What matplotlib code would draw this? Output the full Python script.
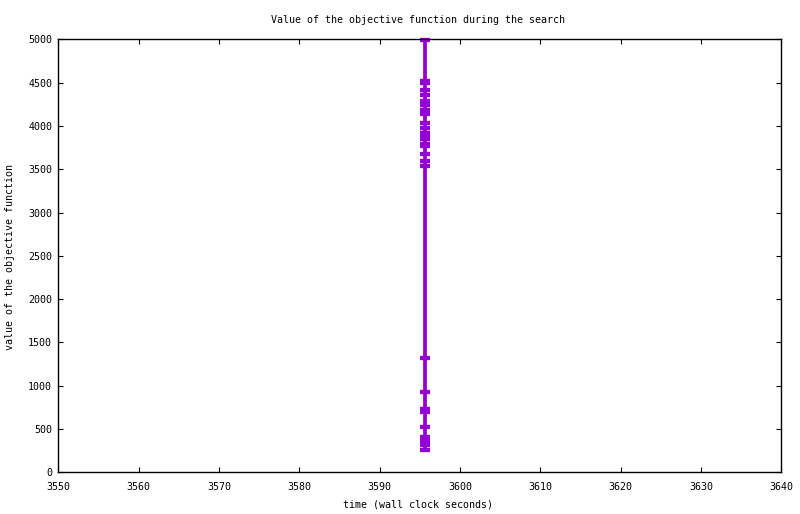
import matplotlib
matplotlib.use("Agg")
import matplotlib.pyplot as plt

# objective value found at each improvement
objective = [4990, 4524, 4490, 4417, 4357, 4288, 4236, 4184, 4138, 4034,
             3979, 3918, 3884, 3849, 3791, 3768, 3678, 3597, 3539,
             1322, 930, 731, 702, 525, 408, 362, 316, 263]
# wall clock time of each improvement, all within the same second
wall_time = [3595.6] * len(objective)

x_ticks = [3550, 3560, 3570, 3580, 3590, 3600, 3610, 3620, 3630, 3640]
y_ticks = [0, 500, 1000, 1500, 2000, 2500, 3000, 3500, 4000, 4500, 5000]

plt.rcParams['font.family'] = ['DejaVu Sans Mono']
plt.rcParams['font.size'] = 7.2

fig = plt.figure(figsize=(8.0, 5.14), dpi=100)
ax = fig.add_axes([0.0729, 0.0811, 0.9037, 0.8424])

ax.plot(wall_time, objective, color='#9400d3', linewidth=2.7,
        solid_capstyle='projecting', marker='_', markersize=7.4,
        markeredgewidth=3.1, clip_on=False)

ax.set_xlim(3550, 3640)
ax.set_ylim(0, 5000)
ax.set_xticks(x_ticks)
ax.set_yticks(y_ticks)
ax.tick_params(direction='in', length=3.6, width=0.8, top=True, right=True,
               colors='black')
ax.tick_params(axis='x', pad=7)
ax.tick_params(axis='y', pad=4.5)
for side in ax.spines.values():
    side.set_linewidth(1.0)

fig.text(0.5225, 0.961, "Value of the objective function during the search",
         ha='center', va='center')
fig.text(0.5225, 0.018, "time (wall clock seconds)", ha='center', va='center')
fig.text(0.0125, 0.5, "value of the objective function", ha='center',
         va='center', rotation=90)

fig.savefig("out.png", dpi=100)
